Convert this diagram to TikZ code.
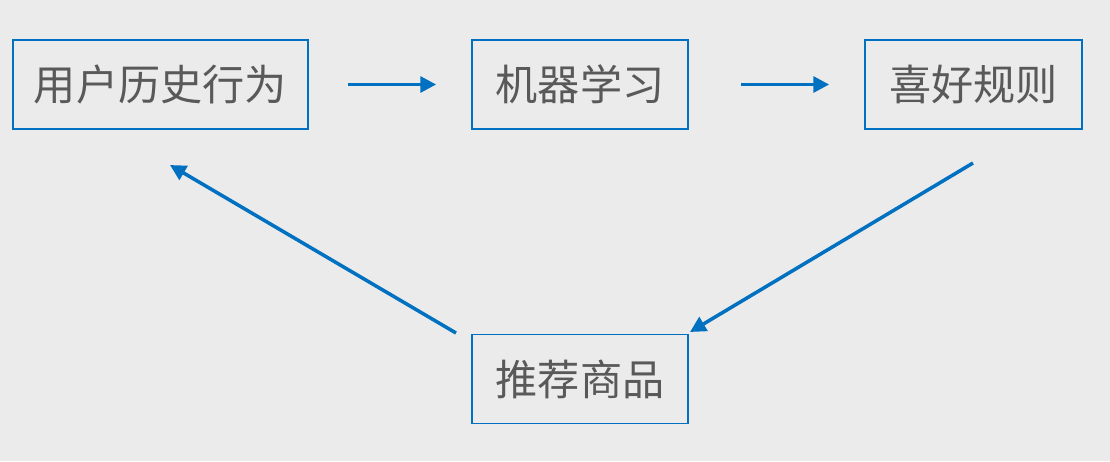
\documentclass[tikz,border=0pt]{standalone}
\usepackage{fontspec}
\newfontfamily\cjk{Noto Sans CJK SC}
\usetikzlibrary{arrows.meta}
\definecolor{bg}{HTML}{EBEBEB}
\definecolor{flowblue}{HTML}{0070C0}
\definecolor{txtgray}{HTML}{595959}
\begin{document}
\begin{tikzpicture}
[
    x=0.02cm, y=-0.02cm,
    stepbox/.style = {draw=flowblue, line width=1pt, text=txtgray, font=\cjk\fontsize{24}{28}\selectfont, minimum height=1.78cm, inner sep=0pt},
    flow/.style = {draw=flowblue, line width=2pt, -{Stealth[length=9pt,width=9pt,inset=0pt]}},
]
\fill[bg] (0,0) rectangle (1110,461);
\node[stepbox, minimum width=5.9cm] (hist) at (160.5,84.5) {用户历史行为};
\node[stepbox, minimum width=4.32cm] (ml) at (580,84.5) {机器学习};
\node[stepbox, minimum width=4.34cm] (rule) at (973.5,84.5) {喜好规则};
\node[stepbox, minimum width=4.32cm] (rec) at (580,379) {推荐商品};
\coordinate (ruleout) at (973,163);
\coordinate (recin) at (690,332);
\coordinate (recout) at (456,333);
\coordinate (histin) at (170,165);
\draw[flow, shorten <=0.78cm, shorten >=0.7cm] (hist.east) -- (ml.west);
\draw[flow, shorten <=1.04cm, shorten >=0.7cm] (ml.east) -- (rule.west);
\draw[flow] (ruleout) -- (recin);
\draw[flow] (recout) -- (histin);
\end{tikzpicture}
\end{document}
